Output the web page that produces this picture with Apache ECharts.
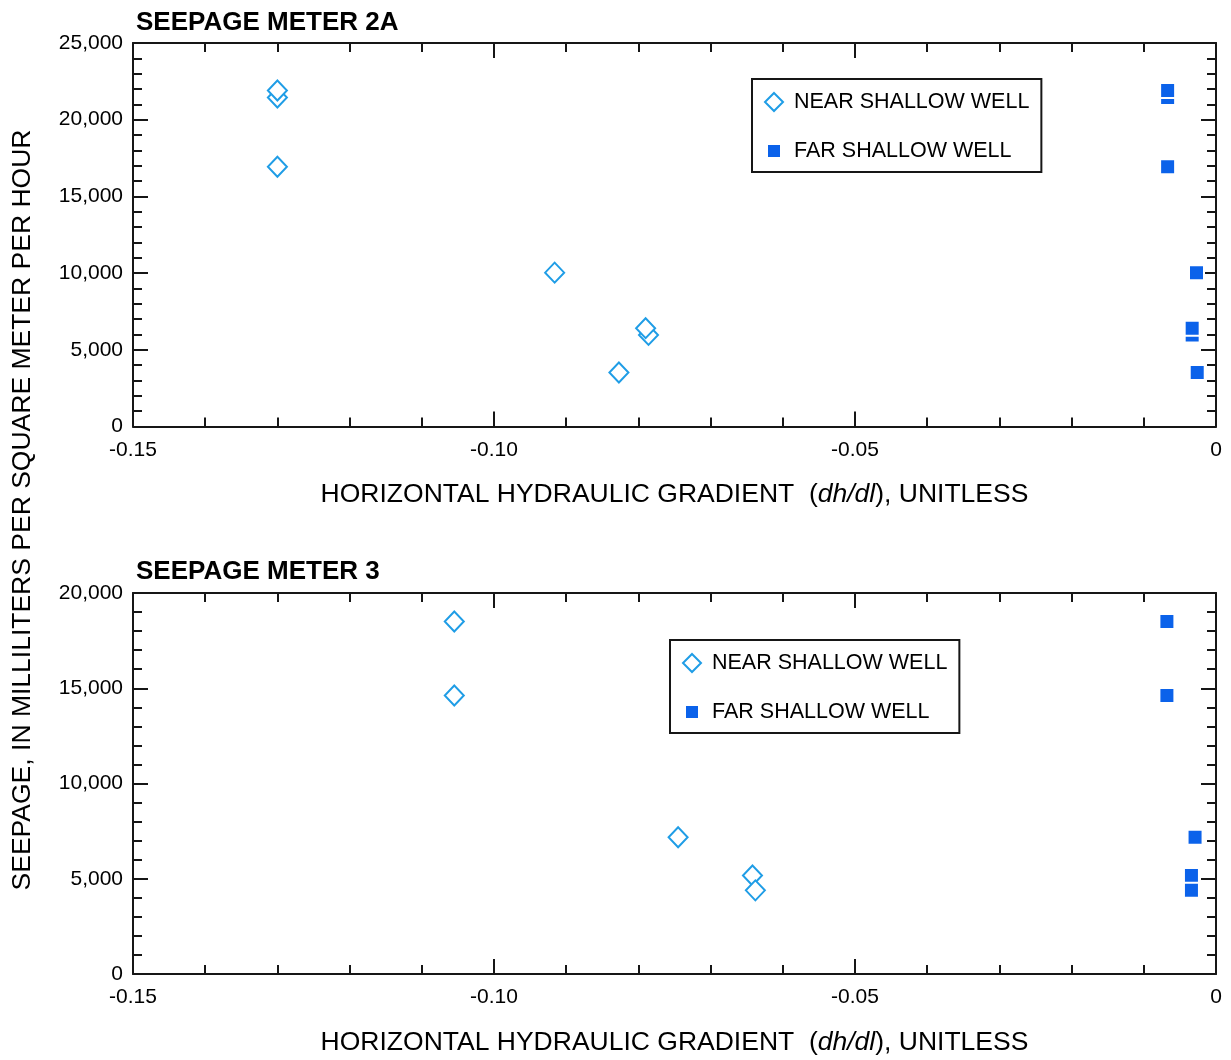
<!DOCTYPE html>
<html>
<head>
<meta charset="utf-8">
<script src="https://cdn.jsdelivr.net/npm/echarts@6/dist/echarts.min.js"></script>
<style>
html,body{margin:0;padding:0;background:#fff;}
#chart{width:1231px;height:1060px;}
</style>
</head>
<body>
<div id="chart"></div>
<script>
// ---- Data ----
const seriesNames = ['NEAR SHALLOW WELL', 'FAR SHALLOW WELL'];
const panelTitles = ['SEEPAGE METER 2A', 'SEEPAGE METER 3'];

// Seepage meter 2A
const seep2A     = [21450, 21900, 16930, 10030, 3520, 5970, 6410];
const nearGrad2A = [-0.130, -0.130, -0.130, -0.0916, -0.0827, -0.0786, -0.0790];
const farGrad2A  = [-0.0067, -0.0067, -0.0067, -0.0027, -0.0026, -0.0033, -0.0033];

// Seepage meter 3
const seep3      = [14620, 18500, 7180, 5170, 4390];
const nearGrad3  = [-0.1055, -0.1055, -0.0745, -0.0642, -0.0638];
const farGrad3   = [-0.0068, -0.0068, -0.0029, -0.0034, -0.0034];

// Axis ranges / ticks
const xMin = -0.15, xMax = 0, xStep = 0.05;
const yMax2A = 25000, yMax3 = 20000, yStep = 5000;

const FONT = '"Liberation Sans", Arial, Helvetica, sans-serif';
const INK = '#161616';
const NEAR_COLOR = '#1f9de6';
const FAR_COLOR = '#0b62ea';

function pairs(xs, ys) { return xs.map((x, i) => [x, ys[i]]); }
function xFmt(v) { return Math.abs(v) < 1e-9 ? '0' : v.toFixed(2); }
function yFmt(v) { return Math.round(v).toString().replace(/\B(?=(\d{3})+(?!\d))/g, ','); }

const grids = [
  { left: 133, right: 15, top: 43, height: 383.5 },
  { left: 133, right: 15, top: 593, height: 381 }
];

function xAxes(gi) {
  const common = {
    type: 'value', gridIndex: gi, min: xMin, max: xMax, interval: xStep,
    axisLine: { show: true, onZero: false, lineStyle: { color: INK, width: 2 } },
    axisTick: { show: true, inside: true, length: 15, lineStyle: { color: INK, width: 2 } },
    minorTick: { show: true, splitNumber: 5, length: 9, lineStyle: { color: INK, width: 2 } },
    splitLine: { show: false }, minorSplitLine: { show: false }
  };
  return [
    Object.assign({}, common, {
      position: 'bottom',
      axisLabel: { show: true, formatter: xFmt, color: '#000', fontSize: 21, fontFamily: FONT, margin: 13 },
      name: '{n|HORIZONTAL HYDRAULIC GRADIENT  (}{i|dh/dl}{n|), UNITLESS}',
      nameLocation: 'middle', nameGap: 55,
      nameTextStyle: {
        rich: {
          n: { fontSize: 26.5, fontFamily: FONT, color: '#000' },
          i: { fontSize: 26.5, fontFamily: FONT, color: '#000', fontStyle: 'italic' }
        }
      }
    }),
    Object.assign({}, common, { position: 'top', axisLabel: { show: false } })
  ];
}

function yAxes(gi, yMax) {
  const common = {
    type: 'value', gridIndex: gi, min: 0, max: yMax, interval: yStep,
    axisLine: { show: true, onZero: false, lineStyle: { color: INK, width: 2 } },
    axisTick: { show: true, inside: true, length: 15, lineStyle: { color: INK, width: 2 } },
    minorTick: { show: true, splitNumber: 5, length: 9, lineStyle: { color: INK, width: 2 } },
    splitLine: { show: false }, minorSplitLine: { show: false }
  };
  return [
    Object.assign({}, common, {
      position: 'left',
      axisLabel: { show: true, formatter: yFmt, color: '#000', fontSize: 21, fontFamily: FONT, margin: 10 }
    }),
    Object.assign({}, common, { position: 'right', axisLabel: { show: false } })
  ];
}

function legendFor(left, top) {
  return {
    orient: 'vertical', left: left, top: top,
    padding: [12, 12, 9, 10],
    itemGap: 26, itemWidth: 18, itemHeight: 18,
    borderColor: INK, borderWidth: 2, backgroundColor: '#fff',
    selectedMode: false,
    textStyle: { fontSize: 21.5, fontFamily: FONT, color: '#000', lineHeight: 20, padding: [0, 0, 0, 6] },
    data: [
      { name: seriesNames[0], icon: 'diamond',
        itemStyle: { color: '#fff', borderColor: NEAR_COLOR, borderWidth: 2 } },
      { name: seriesNames[1], icon: 'rect',
        itemStyle: { color: FAR_COLOR, borderColor: '#fff', borderWidth: 6 } }
    ]
  };
}

const nearStyle = { color: '#fff', borderColor: NEAR_COLOR, borderWidth: 2, opacity: 1 };
const farStyle = { color: FAR_COLOR, borderColor: '#fff', borderWidth: 2, opacity: 1 };

const option = {
  animation: false,
  backgroundColor: '#fff',
  title: [
    { text: panelTitles[0], left: 131, top: 5,
      textStyle: { fontSize: 26, fontWeight: 'bold', fontFamily: FONT, color: '#000' } },
    { text: panelTitles[1], left: 131, top: 554,
      textStyle: { fontSize: 26, fontWeight: 'bold', fontFamily: FONT, color: '#000' } }
  ],
  legend: [legendFor(752, 79), legendFor(670, 640)],
  grid: grids,
  xAxis: xAxes(0).concat(xAxes(1)),
  yAxis: yAxes(0, yMax2A).concat(yAxes(1, yMax3)),
  graphic: [{
    type: 'text',
    x: 23, y: 510,
    rotation: Math.PI / 2,
    style: {
      text: 'SEEPAGE, IN MILLILITERS PER SQUARE METER PER HOUR',
      fontSize: 26.5, fontFamily: FONT, fill: '#000',
      align: 'center', verticalAlign: 'middle'
    }
  }],
  series: [
    { name: seriesNames[0], type: 'scatter', xAxisIndex: 0, yAxisIndex: 0,
      symbol: 'diamond', symbolSize: [19, 20], itemStyle: nearStyle,
      data: pairs(nearGrad2A, seep2A) },
    { name: seriesNames[1], type: 'scatter', xAxisIndex: 0, yAxisIndex: 0,
      symbol: 'rect', symbolSize: 15, itemStyle: farStyle,
      data: pairs(farGrad2A, seep2A) },
    { name: seriesNames[0], type: 'scatter', xAxisIndex: 2, yAxisIndex: 2,
      symbol: 'diamond', symbolSize: [19, 20], itemStyle: nearStyle,
      data: pairs(nearGrad3, seep3) },
    { name: seriesNames[1], type: 'scatter', xAxisIndex: 2, yAxisIndex: 2,
      symbol: 'rect', symbolSize: 15, itemStyle: farStyle,
      data: pairs(farGrad3, seep3) }
  ]
};

const chart = echarts.init(document.getElementById('chart'), null, { renderer: 'canvas' });
chart.setOption(option);
</script>
</body>
</html>
